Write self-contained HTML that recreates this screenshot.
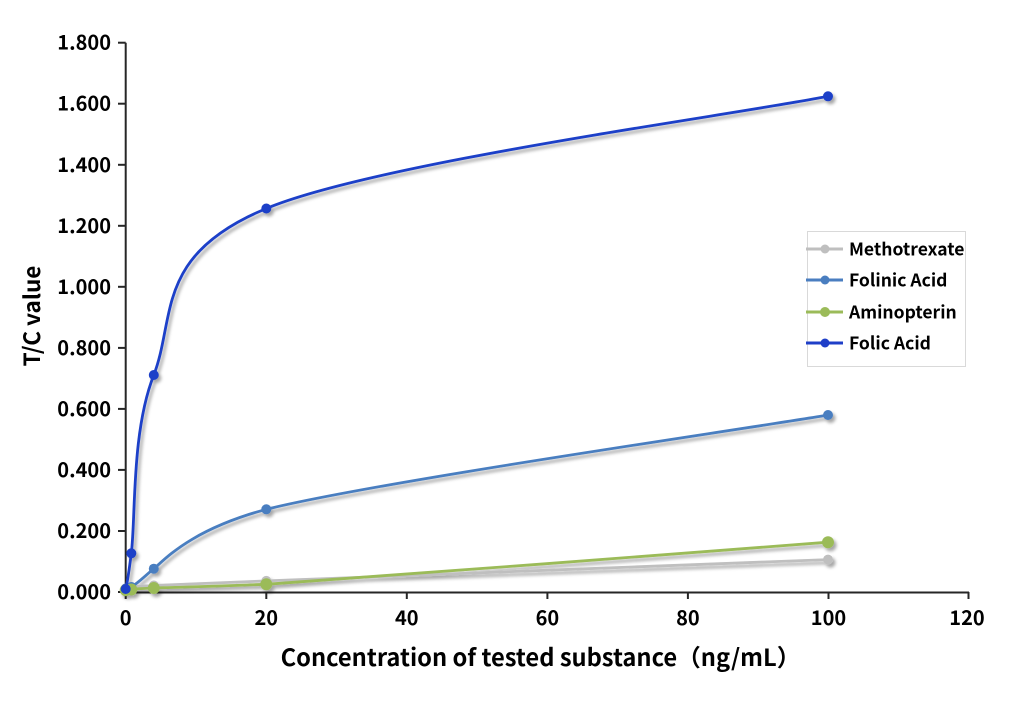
<!DOCTYPE html>
<html><head><meta charset="utf-8">
<style>
html,body{margin:0;padding:0;background:#fff;}
svg{display:block;}
text{font-family:"Noto Sans CJK SC","Liberation Sans",sans-serif;font-weight:bold;fill:#000;}
</style></head>
<body>
<svg width="1014" height="704" viewBox="0 0 1014 704" xmlns="http://www.w3.org/2000/svg">
<defs>
<filter id="sh" x="-10%" y="-10%" width="120%" height="130%">
<feDropShadow dx="2.5" dy="3" stdDeviation="1.6" flood-color="#000" flood-opacity="0.35"/>
</filter>
</defs>
<rect width="1014" height="704" fill="#fff"/>

<!-- axes -->
<g stroke="#262626" stroke-width="2" fill="none">
<line x1="125.7" y1="42.7" x2="125.7" y2="593"/>
<line x1="124.7" y1="592.5" x2="969" y2="592.5"/>
<line x1="118" y1="42.7" x2="125.7" y2="42.7"/>
<line x1="118" y1="103.7" x2="125.7" y2="103.7"/>
<line x1="118" y1="164.8" x2="125.7" y2="164.8"/>
<line x1="118" y1="225.8" x2="125.7" y2="225.8"/>
<line x1="118" y1="286.8" x2="125.7" y2="286.8"/>
<line x1="118" y1="347.9" x2="125.7" y2="347.9"/>
<line x1="118" y1="408.9" x2="125.7" y2="408.9"/>
<line x1="118" y1="469.9" x2="125.7" y2="469.9"/>
<line x1="118" y1="531" x2="125.7" y2="531"/>
<line x1="118" y1="592" x2="125.7" y2="592"/>
<line x1="125.7" y1="592" x2="125.7" y2="599"/>
<line x1="266.3" y1="592" x2="266.3" y2="599"/>
<line x1="406.8" y1="592" x2="406.8" y2="599"/>
<line x1="547.4" y1="592" x2="547.4" y2="599"/>
<line x1="687.9" y1="592" x2="687.9" y2="599"/>
<line x1="828.5" y1="592" x2="828.5" y2="599"/>
<line x1="968.5" y1="592" x2="968.5" y2="599"/>
</g>

<!-- y tick labels -->
<g font-size="20" text-anchor="end">
<text x="111" y="49.7">1.800</text>
<text x="111" y="110.7">1.600</text>
<text x="111" y="171.8">1.400</text>
<text x="111" y="232.8">1.200</text>
<text x="111" y="293.8">1.000</text>
<text x="111" y="354.9">0.800</text>
<text x="111" y="415.9">0.600</text>
<text x="111" y="476.9">0.400</text>
<text x="111" y="538">0.200</text>
<text x="111" y="599">0.000</text>
</g>
<!-- x tick labels -->
<g font-size="20" text-anchor="middle">
<text x="125.7" y="625">0</text>
<text x="266.3" y="625">20</text>
<text x="406.8" y="625">40</text>
<text x="547.4" y="625">60</text>
<text x="687.9" y="625">80</text>
<text x="828.5" y="625">100</text>
<text x="967" y="625">120</text>
</g>

<!-- axis titles -->
<text x="540.5" y="666" font-size="23.7" text-anchor="middle">Concentration of tested substance（ng/mL）</text>
<text transform="translate(40,316) rotate(-90)" font-size="22.5" text-anchor="middle">T/C value</text>

<!-- series -->
<g fill="none" stroke-width="2.8" stroke-linecap="round" stroke-linejoin="round" filter="url(#sh)">
<g>
<path stroke="#bfbfbf" d="M125.7,588.5 C126.6,588.25 126.6,587.5 131.3,587 C136,586.5 131.3,586.5 153.8,585.5 C176.3,584.5 153.9,585.2 266.3,580.9 C378.7,576.6 734.4,563.15 828,559.6"/>
<g fill="#bfbfbf" stroke="none">
<circle cx="125.7" cy="588.5" r="5"/><circle cx="131.3" cy="587" r="5"/><circle cx="153.8" cy="585.5" r="5"/><circle cx="266.3" cy="580.9" r="5"/><circle cx="828" cy="559.6" r="5"/>
</g>
</g>
<g>
<path stroke="#4a7ec0" d="M125.7,588.5 C127.5,588 129.5,588 131.3,587 C138,583 146,575 153.8,568.7 C165,559.5 190,530 266.3,509.3 C378.6,481.5 734.4,430.7 828,415"/>
<g fill="#4a7ec0" stroke="none">
<circle cx="125.7" cy="588.5" r="5"/><circle cx="131.3" cy="587" r="5"/><circle cx="153.8" cy="568.7" r="5"/><circle cx="266.3" cy="509.3" r="5"/><circle cx="828" cy="415" r="5"/>
</g>
</g>
<g>
<path stroke="#9bbb59" d="M125.7,590.1 C126.6,590 126.6,589.85 131.3,589.5 C136,589.15 131.3,588.87 153.8,588 C176.3,587.13 200,587 266.3,584.3 C378.7,576.93 734.4,549.2 828,542.2"/>
<g fill="#9bbb59" stroke="none">
<circle cx="125.7" cy="590.1" r="6"/><circle cx="131.3" cy="589.5" r="6"/><circle cx="153.8" cy="588" r="6"/><circle cx="266.3" cy="584.3" r="6"/><circle cx="828" cy="542.2" r="6"/>
</g>
</g>
<g>
<path stroke="#1f3fc8" d="M125.7,589 C126.6,583 126.7,589 131.3,553.3 C135.9,517.6 131.1,432.5 153.8,375 C176,317.5 153.8,255 266.3,208.5 C378.5,162 734,115 828,96.3"/>
<g fill="#1f3fc8" stroke="none">
<circle cx="125.7" cy="589" r="5"/><circle cx="131.3" cy="553.3" r="5"/><circle cx="153.8" cy="375" r="5"/><circle cx="266.3" cy="208.5" r="5"/><circle cx="828" cy="96.3" r="5"/>
</g>
</g>
</g>

<!-- legend -->
<rect x="807.5" y="231.5" width="158" height="135" fill="#fff" stroke="#d9d9d9" stroke-width="1"/>
<g stroke-width="3">
<line x1="806" y1="249" x2="843" y2="249" stroke="#bfbfbf"/>
<circle cx="825" cy="249" r="4.5" fill="#bfbfbf"/>
<line x1="806" y1="280" x2="843" y2="280" stroke="#4a7ec0"/>
<circle cx="825" cy="280" r="4.5" fill="#4a7ec0"/>
<line x1="806" y1="312" x2="843" y2="312" stroke="#9bbb59"/>
<circle cx="825" cy="312" r="5" fill="#9bbb59"/>
<line x1="806" y1="343" x2="843" y2="343" stroke="#1f3fc8"/>
<circle cx="825" cy="343" r="4.5" fill="#1f3fc8"/>
</g>
<g font-size="17.5">
<text x="849" y="255.5">Methotrexate</text>
<text x="849" y="286.5">Folinic Acid</text>
<text x="849" y="318.5">Aminopterin</text>
<text x="849" y="349.5">Folic Acid</text>
</g>
</svg>
</body></html>
